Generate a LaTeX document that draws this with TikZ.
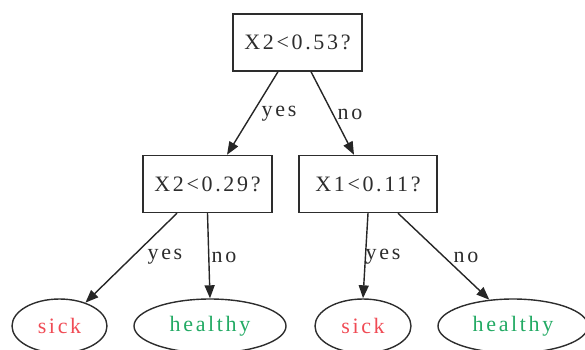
\documentclass[tikz,border=0pt]{standalone}
\usepackage{fontspec}
\setmainfont{Liberation Serif}[LetterSpace=12]
\usepackage{xcolor}
\usetikzlibrary{positioning, shapes.geometric, arrows.meta}

\definecolor{inkgray}{RGB}{45,45,45}
\definecolor{sickred}{RGB}{240,75,85}
\definecolor{healthygreen}{RGB}{35,170,100}

\begin{document}
\begin{tikzpicture}[
  x=1pt, y=-1pt,
  font=\fontsize{22pt}{26pt}\selectfont,
  every node/.style={inner sep=2pt, text=inkgray},
  test/.style ={draw=inkgray, line width=1.4pt, rectangle,
                minimum height=57pt},
  leaf/.style ={draw=inkgray, line width=1.4pt, ellipse,
                minimum height=54pt},
  edge/.style ={-{Triangle[length=13pt, width=10pt]}, draw=black!85, line width=1.4pt},
]
\useasboundingbox (0,0) rectangle (585,349);

% ---- Level 0: root test ---------------------------------------------------
\node[test, minimum width=129pt] (root)  at (297.5,42.5) {X2<0.53?};

% ---- Level 1: the two inner tests -----------------------------------------
\node[test, minimum width=129pt] (left)  at (207.5,184)  {X2<0.29?};
\node[test, minimum width=138pt] (right) at (368,184)    {X1<0.11?};

% ---- Level 2: leaves ------------------------------------------------------
\node[leaf, minimum width=95pt]  (sickA)    at (59.5,326) {\color{sickred}sick};
\node[leaf, minimum width=152pt] (healthyA) at (210,326)  {\color{healthygreen}healthy};
\node[leaf, minimum width=96pt]  (sickB)    at (363,326)  {\color{sickred}sick};
\node[leaf, minimum width=150pt] (healthyB) at (513,326)  {\color{healthygreen}healthy};

% root splits
\draw[edge] ([xshift=-19.5pt]root.south) -- ([xshift=19.5pt]left.north);
\draw[edge] ([xshift=13.5pt]root.south)  -- ([xshift=-14pt]right.north);
\node (yesA) at (279,114) {yes};
\node (noA)  at (350,114) {no};

% left subtree
\draw[edge] ([xshift=-30.5pt]left.south) -- (sickA.42);
\draw[edge] (left.south) -- (healthyA.north);
\node (yesB) at (165,257) {yes};
\node (noB)  at (224,257) {no};

% right subtree
\draw[edge] (right.south) -- (sickB.north);
\draw[edge] ([xshift=30pt]right.south) -- (healthyB.132);
\node (yesC) at (383,257) {yes};
\node (noC)  at (466,257) {no};
\end{tikzpicture}
\end{document}
